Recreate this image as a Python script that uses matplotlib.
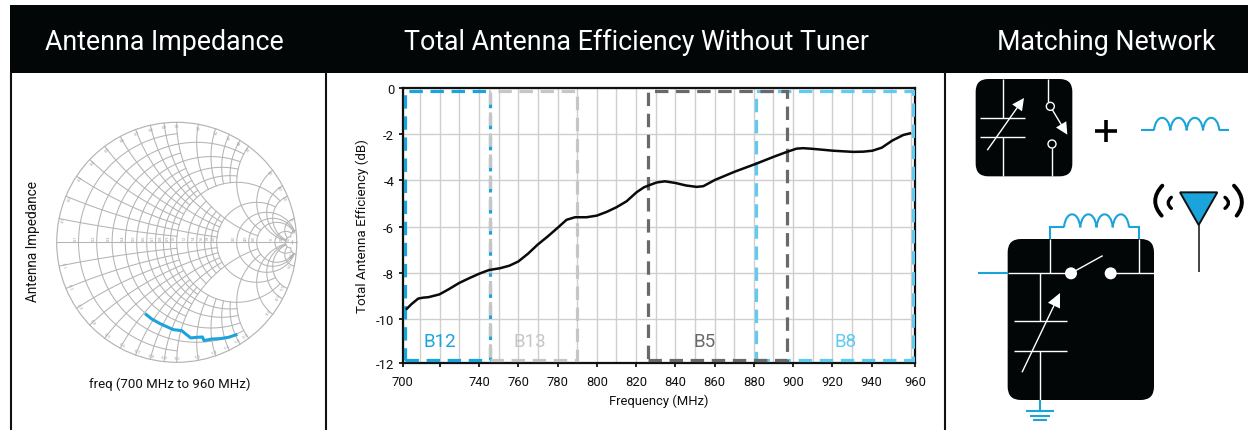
import numpy as np
import matplotlib
matplotlib.use("Agg")
import matplotlib.pyplot as plt
from matplotlib.patches import Rectangle, FancyBboxPatch, Circle, Polygon, PathPatch
from matplotlib.path import Path

W, H = 1248, 431
FONT = ['Roboto', 'DejaVu Sans']
plt.rcParams['font.family'] = FONT

BLUE = '#1ba3dc'
LIGHT_BLUE = '#5fcbf0'
GREY = '#c6c6c6'
DARK_GREY = '#696969'
SMITH_GREY = '#b4b4b4'

# Efficiency curve
freq_mhz = [703.2, 705.7, 709, 711.5, 714.2, 719.8, 724.5, 729.8, 735, 740, 745, 750.7, 755.5, 760, 765, 769.9, 775, 780,
            784.6, 788.9, 794.8, 800, 805, 810, 815.2, 820.3, 824, 827, 830.5, 834.7, 840, 845.5, 850.9, 854.3,
            860.2, 870.4, 880.6, 890.8, 897.2, 901.8, 905.2, 910.3, 920.5, 930.7,
            935.8, 940.4, 945.2, 950.6, 956.2, 959.6]
efficiency_db = [-9.54, -9.33, -9.10, -9.06, -9.04, -8.92, -8.70, -8.43, -8.22, -8.03, -7.87, -7.79, -7.68, -7.50, -7.16, -6.77, -6.42, -6.05,
                 -5.70, -5.59, -5.59, -5.52, -5.36, -5.16, -4.90, -4.51, -4.30, -4.20, -4.09, -4.04, -4.11, -4.22, -4.28, -4.25,
                 -3.98, -3.62, -3.30, -2.96, -2.76, -2.63, -2.61, -2.64, -2.72, -2.77,
                 -2.76, -2.72, -2.59, -2.28, -2.04, -1.97]

# Bands: name, start, stop, colour
band_names = ['B12', 'B13', 'B8', 'B5']
band_start = [702.2, 745.5, 881, 826]
band_stop = [745.5, 789.8, 961.2, 897]
band_colors = [BLUE, GREY, LIGHT_BLUE, DARK_GREY]
band_label_x = [720, 766, 927, 855]

x_tick_pos = [701, 720, 740, 760, 780, 800, 820, 840, 860, 880, 900, 920, 940, 962.3]
x_tick_labels = ['700', '', '740', '760', '780', '800', '820', '840', '860', '880', '900', '920', '940', '960']
y_tick_pos = [0, -2, -4, -6, -8, -10, -11.88]
y_tick_labels = ['0', '-2', '-4', '-6', '-8', '-10', '-12']

# Smith chart
r_odd = [0.1, 0.3, 0.5, 0.7, 0.9]
r_even = [0.2, 0.4, 0.6, 0.8]
r_upper = [1.2, 1.4, 1.6, 1.8]
main_r = [1, 2]
outer_r = [3, 4, 5, 10, 20, 50]
x_odd = [0.1, 0.3, 0.5, 0.7, 0.9]
x_even = [0.2, 0.4, 0.6, 0.8]
x_upper = [1.2, 1.4, 1.6, 1.8]
main_x = [1, 2]
outer_x = [3, 4, 5, 10, 20]
axis_r = [0.1, 0.2, 0.3, 0.4, 0.5, 0.6, 0.7, 0.8, 0.9, 1.0, 1.2, 1.4, 1.6, 1.8, 2, 3, 4, 5, 10, 20, 50]
axis_labels = ['0.1', '0.2', '0.3', '0.4', '0.5', '0.6', '0.7', '0.8', '0.9', '1.0',
               '1.2', '1.4', '1.6', '1.8', '2.0', '3.0', '4.0', '5.0', '10', '20', '50']
edge_x = axis_r[:-1]
trace_re = [-.264, -.208, -.139, -.083, -.028, .042, .075, .117, .167, .214, .228, .292, .361, .431, .506]
trace_im = [-.594, -.639, -.678, -.703, -.728, -.736, -.764, -.797, -.792, -.789, -.819, -.806, -.803, -.792, -.767]


def px_axes(fig, left, top, right, bottom):
    return fig.add_axes([left / W, 1 - bottom / H, (right - left) / W, (bottom - top) / H])


def to_gamma(z):
    return (z - 1) / (z + 1)


def r_curve(ax, r, xmax):
    t = np.sinh(np.linspace(-6, 6, 400)) / np.sinh(6) * xmax
    g = to_gamma(r + 1j * t)
    ax.plot(g.real, g.imag, color=SMITH_GREY, lw=0.75)


def x_curve(ax, x, rmax):
    t = np.concatenate([[0], np.geomspace(0.001, rmax, 300)])
    for sign in (1, -1):
        g = to_gamma(t + 1j * sign * x)
        ax.plot(g.real, g.imag, color=SMITH_GREY, lw=0.75)


def hump_path(x0, x1, y, top, n):
    # inductor coil drawn as n bumps
    xs = np.linspace(x0, x1, n + 1)
    verts = [(xs[0], y)]
    codes = [Path.MOVETO]
    for a, b in zip(xs[:-1], xs[1:]):
        w = b - a
        verts += [(a + 0.1 * w, top), (b - 0.1 * w, top), (b, y)]
        codes += [Path.CURVE4] * 3
    return Path(verts, codes)


def wire(ax, xs, ys, color='white', lw=1.0, zorder=3):
    ax.plot(xs, ys, color=color, lw=lw, solid_capstyle='butt', solid_joinstyle='miter', zorder=zorder)


def arrow(ax, x0, y0, x1, y1, head, half, color='white', zorder=4):
    d = np.array([x1 - x0, y1 - y0], dtype=float)
    d /= np.hypot(*d)
    n = np.array([-d[1], d[0]])
    tip = np.array([x1, y1])
    base = tip - d * head
    ax.plot([x0, base[0]], [y0, base[1]], color=color, lw=1.0, zorder=zorder)
    ax.add_patch(Polygon([tip, base + n * half, base - n * half], closed=True, fc=color, ec='none', zorder=zorder))


def bow(ax, p0, c, p1, lw):
    ax.add_patch(PathPatch(Path([p0, c, p1], [Path.MOVETO, Path.CURVE3, Path.CURVE3]),
                           fc='none', ec='black', lw=lw, capstyle='round'))


fig = plt.figure(figsize=(W / 100, H / 100), dpi=100)

# Page furniture in pixel coordinates
bg = fig.add_axes([0, 0, 1, 1])
bg.set_xlim(0, W)
bg.set_ylim(H, 0)
bg.axis('off')
bg.add_patch(Rectangle((9.5, 5.5), W - 9.5, 68.5, fc='#030607', ec='none'))
for x in [10.5, 326, 945]:
    bg.plot([x, x], [74, H], color='#111111', lw=1.5)
bg.text(164, 42.5, 'Antenna Impedance', color='white', fontsize=19.3, ha='center', va='center')
bg.text(637, 42.5, 'Total Antenna Efficiency Without Tuner', color='white', fontsize=19.3, ha='center', va='center')
bg.text(1106, 42.5, 'Matching Network', color='white', fontsize=19.3, ha='center', va='center')
bg.text(33, 242, 'Antenna Impedance', color='#111111', fontsize=9.8, rotation=90, ha='center', va='center')
bg.text(169.5, 384, 'freq (700 MHz to 960 MHz)', color='#111111', fontsize=9.5, ha='center', va='center')

# Efficiency plot
ax = px_axes(fig, 402.5, 88.7, 915.3, 364)
ax.set_xlim(701, 962.3)
ax.set_ylim(-11.88, 0)
ax.set_xticks(np.arange(710, 961, 10), minor=True)
ax.set_xticks(x_tick_pos)
ax.set_xticklabels(x_tick_labels, fontsize=9.4, color='#111111')
ax.set_yticks(y_tick_pos)
ax.set_yticklabels(y_tick_labels, fontsize=9.4, color='#111111')
ax.tick_params(axis='both', which='major', length=3, width=1.2, pad=3)
ax.tick_params(axis='x', which='minor', length=0)
ax.tick_params(axis='x', which='major', pad=6)
ax.grid(True, which='both', color='#cfcfcf', lw=1.0)
ax.set_axisbelow(True)
for s in ax.spines.values():
    s.set_linewidth(1.6)
    s.set_color('#111111')
for name, x0, x1, c, lx in zip(band_names, band_start, band_stop, band_colors, band_label_x):
    ax.add_patch(Rectangle((x0, -11.74), x1 - x0, 11.6, fc='none', ec=c, lw=2.3, ls=(0, (4.2, 2.4)), zorder=3))
    ax.text(lx, -10.95, name, color=c, fontsize=13.5, ha='center', va='center', zorder=4)
ax.plot(freq_mhz, efficiency_db, color='#0a0a0a', lw=1.8, zorder=5)
ax.set_xlabel('Frequency (MHz)', fontsize=9.4, color='#111111', labelpad=4)
ax.set_ylabel('Total Antenna Efficiency (dB)', fontsize=9.6, color='#111111', labelpad=5)

# Smith chart
R = 120
sm = px_axes(fig, 176.7 - R * 1.05, 243.3 - R * 1.05, 176.7 + R * 1.05, 243.3 + R * 1.05)
sm.set_xlim(-1.05, 1.05)
sm.set_ylim(-1.05, 1.05)
sm.axis('off')
sm.add_patch(Circle((0, 0), 1, fc='none', ec=SMITH_GREY, lw=0.85))
sm.plot([-1, 1], [0, 0], color=SMITH_GREY, lw=0.75)
for r in r_odd:
    r_curve(sm, r, 1)
for r in r_even:
    r_curve(sm, r, 2)
for r in r_upper:
    r_curve(sm, r, 1)
for r in main_r:
    r_curve(sm, r, 5)
for r in outer_r:
    r_curve(sm, r, 20)
for x in x_odd:
    x_curve(sm, x, 1)
for x in x_even:
    x_curve(sm, x, 2)
for x in x_upper:
    x_curve(sm, x, 1)
for x in main_x:
    x_curve(sm, x, 5)
for x in outer_x:
    x_curve(sm, x, 20)
for r, lab in zip(axis_r, axis_labels):
    g = to_gamma(r)
    sm.text(g - 0.025, 0.02, lab, fontsize=2.8, color='#999999', rotation=90, ha='center', va='bottom')
for x, lab in zip(edge_x, axis_labels):
    for sign in (1, -1):
        g = to_gamma(1j * sign * x) * 0.965
        ang = np.degrees(np.angle(g))
        rot = ang - 90 if sign > 0 else ang + 90
        txt = lab if sign > 0 else '-' + lab
        sm.text(g.real, g.imag, txt, fontsize=2.8, color='#999999', rotation=rot, ha='center', va='center')
sm.plot(trace_re, trace_im, color=BLUE, lw=2.2, solid_capstyle='butt', zorder=5)

# Matching network schematics, units are 1/3 px from (950, 70)
sc = px_axes(fig, 950, 70, 1248, 431)
sc.set_xlim(0, 894)
sc.set_ylim(1083, 0)
sc.axis('off')
sc.add_patch(FancyBboxPatch((77 + 38, 30 + 38), 290 - 76, 292 - 76, boxstyle='round,pad=38,rounding_size=38',
                            fc='#030607', ec='none', zorder=2))
wire(sc, [160, 160], [30, 148])
wire(sc, [160, 160], [205, 322])
wire(sc, [90, 225], [148, 148])
wire(sc, [90, 225], [205, 205])
arrow(sc, 113, 242, 222, 87, 36, 18)
wire(sc, [293, 293], [30, 100])
sc.add_patch(Circle((301, 112), 12, fc='#030607', ec='white', lw=1.0, zorder=4))
arrow(sc, 308, 124, 352, 197, 36, 18)
sc.add_patch(Circle((306, 225), 12, fc='#030607', ec='white', lw=1.0, zorder=4))
wire(sc, [306, 306], [237, 322])
wire(sc, [435, 500], [185, 185], color='black', lw=2.6)
wire(sc, [467, 467], [152, 218], color='black', lw=2.6)
wire(sc, [573, 612], [184, 184], color=BLUE, lw=1.5)
wire(sc, [808, 838], [184, 184], color=BLUE, lw=1.5)
sc.add_patch(PathPatch(hump_path(612, 808, 184, 134, 4), fc='none', ec=BLUE, lw=1.5, zorder=3))

sc.add_patch(FancyBboxPatch((173 + 40, 510 + 40), 439 - 80, 483 - 80, boxstyle='round,pad=40,rounding_size=40',
                            fc='#030607', ec='none', zorder=2))
wire(sc, [173, 363], [613, 613])
wire(sc, [482, 612], [613, 613])
wire(sc, [301, 301], [510, 613])
wire(sc, [566, 566], [510, 613])
wire(sc, [270, 270], [613, 755])
wire(sc, [192, 352], [755, 755])
wire(sc, [192, 352], [845, 845])
wire(sc, [270, 270], [845, 993])
wire(sc, [375, 458], [606, 560])
arrow(sc, 217, 908, 330, 672, 42, 20)
sc.add_patch(Circle((363, 613), 18, fc='white', ec='none', zorder=4))
sc.add_patch(Circle((482, 613), 18, fc='white', ec='none', zorder=4))
wire(sc, [83, 173], [613, 613], color=BLUE, lw=1.5)
wire(sc, [301, 301, 342], [510, 475, 475], color=BLUE, lw=1.5)
wire(sc, [537, 566, 566], [475, 475, 510], color=BLUE, lw=1.5)
sc.add_patch(PathPatch(hump_path(342, 537, 475, 423, 4), fc='none', ec=BLUE, lw=1.5, zorder=3))
wire(sc, [270, 270], [993, 1027], color=BLUE, lw=1.5)
wire(sc, [228, 313], [1027, 1027], color=BLUE, lw=1.5)
wire(sc, [240, 300], [1040, 1040], color=BLUE, lw=1.5)
wire(sc, [250, 292], [1052, 1052], color=BLUE, lw=1.5)

sc.add_patch(Polygon([(690, 370), (802, 370), (746, 468)], closed=True, fc=BLUE, ec='#111111', lw=1.4, zorder=3))
wire(sc, [746, 746], [468, 610], color='#111111', lw=1.1)
bow(sc, (637, 350), (595, 395), (635, 440), 2.8)
bow(sc, (664, 385), (645, 402), (664, 418), 2.4)
bow(sc, (852, 350), (895, 395), (860, 440), 2.8)
bow(sc, (825, 385), (846, 402), (825, 418), 2.4)

plt.savefig('out.png', dpi=100)
plt.close()
